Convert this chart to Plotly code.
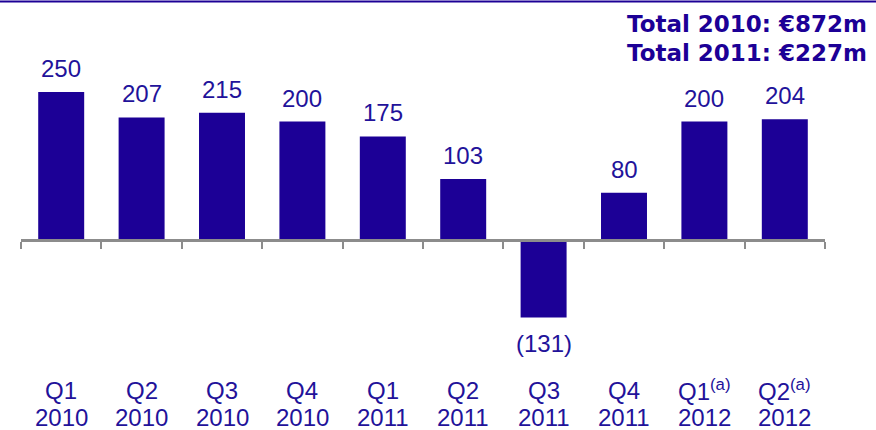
import plotly.graph_objects as go

quarters = ["Q1", "Q2", "Q3", "Q4", "Q1", "Q2", "Q3", "Q4", "Q1<sup>(a)</sup>", "Q2<sup>(a)</sup>"]
years = ["2010", "2010", "2010", "2010", "2011", "2011", "2011", "2011", "2012", "2012"]
values = [250, 207, 215, 200, 175, 103, -131, 80, 200, 204]
totals = ["Total 2010: €872m", "Total 2011: €227m"]

W, H = 876, 430
NAVY = "#1c0096"
TEXT = "#22129a"
GRAY = "#8c8c8c"
LBL_FONT = "Liberation Sans"

x0_px, x1_px = 21, 825
zero_px = 240
px_per_unit = 0.592
y_top = zero_px / px_per_unit
y_bot = (zero_px - H) / px_per_unit

xs = list(range(len(values)))
fig = go.Figure()
fig.add_trace(go.Bar(x=xs, y=values, marker=dict(color=NAVY, line=dict(width=0)),
                     hoverinfo="skip"))

anns = []
for i, v in enumerate(values):
    label = f"({abs(v)})" if v < 0 else str(v)
    anns.append(dict(x=i, y=v, xref="x", yref="y", text=label, showarrow=False,
                     yanchor="bottom" if v >= 0 else "top",
                     yshift=8 if v >= 0 else -10,
                     font=dict(family=LBL_FONT, size=24, color=TEXT)))
    anns.append(dict(x=i, y=1 - 390 / H, xref="x", yref="paper", text=quarters[i],
                     showarrow=False, yanchor="middle",
                     font=dict(family=LBL_FONT, size=24, color=TEXT)))
    anns.append(dict(x=i, y=1 - 417 / H, xref="x", yref="paper", text=years[i],
                     showarrow=False, yanchor="middle",
                     font=dict(family=LBL_FONT, size=24, color=TEXT)))

for j, t in enumerate(totals):
    anns.append(dict(x=869 / W, y=1 - (24 + 29 * j) / H, xref="paper", yref="paper",
                     text=f"<b>{t}</b>", showarrow=False, xanchor="right", yanchor="middle",
                     font=dict(family="DejaVu Sans", size=23, color=NAVY)))

fig.update_layout(
    width=W, height=H,
    margin=dict(l=0, r=0, t=0, b=0),
    paper_bgcolor="white", plot_bgcolor="white",
    showlegend=False,
    bargap=0.428,
    annotations=anns,
    shapes=[dict(type="line", xref="paper", yref="paper", x0=0, x1=1,
                 y0=1 - 1.5 / H, y1=1 - 1.5 / H, line=dict(color=NAVY, width=2))],
    xaxis=dict(domain=[x0_px / W, x1_px / W], range=[-0.5, len(values) - 0.5],
               anchor="free", position=1 - zero_px / H,
               showline=True, linecolor=GRAY, linewidth=3,
               tickmode="array", tickvals=[k - 0.5 for k in range(len(values) + 1)],
               ticks="outside", ticklen=7, tickwidth=2, tickcolor=GRAY,
               showticklabels=False, showgrid=False, zeroline=False, fixedrange=True),
    yaxis=dict(domain=[0, 1], range=[y_bot, y_top], visible=False,
               showgrid=False, zeroline=False, fixedrange=True),
)

fig.write_html("out.html", config={"displayModeBar": False},
               post_script="document.body.style.margin='0';document.body.style.overflow='hidden';")
